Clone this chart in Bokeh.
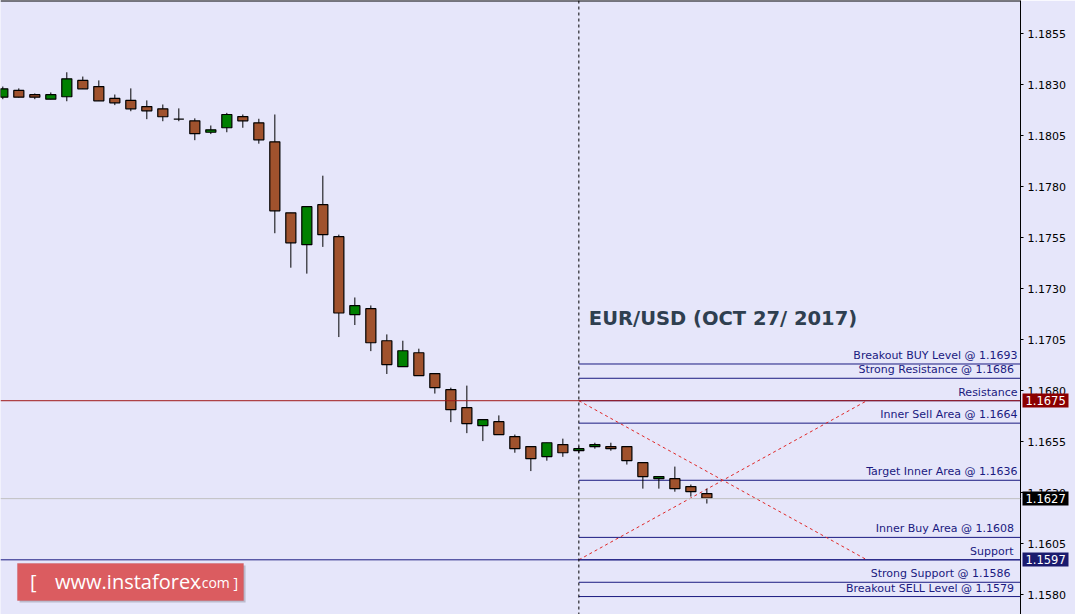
from bokeh.plotting import figure
from bokeh.models import (Range1d, FixedTicker, PrintfTickFormatter, Span, Label, BoxAnnotation,
                          LinearAxis)
from bokeh.core.properties import value
from bokeh.embed import file_html
from bokeh.resources import INLINE

# ---------------- data ----------------
opens = [1.18238, 1.18271, 1.18250, 1.18228, 1.18240, 1.18320, 1.18290, 1.18232, 1.18222, 1.18192,
         1.18181, 1.18130, 1.18122, 1.18066, 1.18088, 1.18143, 1.18112, 1.18019, 1.17671, 1.17515,
         1.17711, 1.17554, 1.17172, 1.17201, 1.17044, 1.16917, 1.16985, 1.16883, 1.16804, 1.16716,
         1.16628, 1.16647, 1.16574, 1.16525, 1.16476, 1.16535, 1.16505, 1.16525, 1.16525, 1.16525,
         1.16446, 1.16368, 1.16368, 1.16329, 1.16295]
closes = [1.18279, 1.18238, 1.18238, 1.18250, 1.18328, 1.18279, 1.18220, 1.18210, 1.18181, 1.18171,
          1.18142, 1.18130, 1.18059, 1.18078, 1.18153, 1.18122, 1.18029, 1.17681, 1.17524, 1.17701,
          1.17564, 1.17180, 1.17216, 1.17034, 1.16927, 1.16995, 1.16873, 1.16814, 1.16706, 1.16638,
          1.16657, 1.16584, 1.16515, 1.16466, 1.16544, 1.16495, 1.16515, 1.16535, 1.16515, 1.16456,
          1.16378, 1.16378, 1.16319, 1.16304, 1.16272]
highs = [1.18290, 1.18281, 1.18256, 1.18261, 1.18360, 1.18339, 1.18320, 1.18251, 1.18281, 1.18222,
         1.18202, 1.18183, 1.18134, 1.18099, 1.18161, 1.18153, 1.18132, 1.18153, 1.17671, 1.17701,
         1.17853, 1.17564, 1.17256, 1.17217, 1.17075, 1.17044, 1.17005, 1.16883, 1.16814, 1.16824,
         1.16657, 1.16678, 1.16584, 1.16525, 1.16544, 1.16564, 1.16526, 1.16544, 1.16544, 1.16525,
         1.16446, 1.16378, 1.16427, 1.16339, 1.16319]
lows = [1.18228, 1.18236, 1.18228, 1.18227, 1.18218, 1.18279, 1.18220, 1.18199, 1.18169, 1.18130,
        1.18120, 1.18120, 1.18027, 1.18057, 1.18066, 1.18088, 1.18010, 1.17571, 1.17402, 1.17373,
        1.17504, 1.17062, 1.17121, 1.16993, 1.16881, 1.16917, 1.16873, 1.16785, 1.16645, 1.16591,
        1.16552, 1.16584, 1.16495, 1.16405, 1.16456, 1.16475, 1.16494, 1.16515, 1.16505, 1.16437,
        1.16319, 1.16319, 1.16304, 1.16280, 1.16246]

level_values = [1.1693, 1.1686, 1.1675, 1.1664, 1.1636, 1.1608, 1.1597, 1.1586, 1.1579]
level_labels = ["Breakout BUY Level @ 1.1693", "Strong Resistance @  1.1686", "Resistance",
                "Inner Sell Area @ 1.1664", "Target Inner Area @ 1.1636", "Inner Buy Area  @ 1.1608",
                "Support", "Strong Support  @  1.1586", "Breakout SELL Level  @ 1.1579"]

resistance_price = 1.1675
last_price = 1.1627
support_price = 1.1597
badge_prices = [resistance_price, last_price, support_price]
badge_colors = ["#8b0000", "#000000", "#1a1a6e"]
marker_bar = 36
cross_end_bar = 54

tick_values = [1.1580, 1.1605, 1.1630, 1.1655, 1.1680, 1.1705, 1.1730, 1.1755,
               1.1780, 1.1805, 1.1830, 1.1855]

title_text = "EUR/USD (OCT 27/ 2017)"

# ---------------- figure ----------------
BG = "#e6e6fa"
NAVY = "#1a1a80"
X_START, X_END = -0.144, 63.6
Y_START, Y_END = 1.157020, 1.187118

p = figure(width=1075, height=614, x_range=Range1d(X_START, X_END),
           y_range=Range1d(Y_START, Y_END),
           y_axis_location="right", x_axis_location=None, output_backend="svg",
           toolbar_location=None, background_fill_color=BG, border_fill_color=BG,
           min_border=0, min_border_right=55, outline_line_color=None)
p.xgrid.visible = False
p.ygrid.visible = False

ax = p.yaxis[0]
ax.ticker = FixedTicker(ticks=tick_values)
ax.formatter = PrintfTickFormatter(format="%.4f")
ax.major_label_text_font = "DejaVu Sans"
ax.major_label_text_font_size = "11px"
ax.major_label_text_color = "black"
ax.major_tick_in = 0
ax.major_tick_out = 3
ax.minor_tick_out = 0
ax.minor_tick_in = 0
ax.major_label_standoff = 4
ax.axis_line_color = "black"

# price badges: coloured boxes drawn as thick inward ticks of zero-width outer axes
for price, col in zip(badge_prices, badge_colors):
    bx = LinearAxis(ticker=FixedTicker(ticks=[price]), formatter=PrintfTickFormatter(format="%.4f"),
                    axis_line_color=None, major_tick_in=46, major_tick_out=0,
                    major_tick_line_color=col, major_tick_line_width=14,
                    major_label_text_color=None, major_label_text_font="DejaVu Sans",
                    major_label_text_font_size="11px", major_label_standoff=-39,
                    minor_tick_in=0, minor_tick_out=0)
    p.add_layout(bx, "right")
# badge texts: white labels pulled back over the boxes
tx = LinearAxis(ticker=FixedTicker(ticks=badge_prices), formatter=PrintfTickFormatter(format="%.4f"),
                axis_line_color=None, major_tick_in=0, major_tick_out=0, minor_tick_in=0,
                minor_tick_out=0, major_label_standoff=-43, major_label_text_color="white",
                major_label_text_font="DejaVu Sans", major_label_text_font_size="11.5px")
p.add_layout(tx, "right")

# top border of the chart frame
p.add_layout(Span(location=Y_END, dimension="width", line_color="black", line_width=2))

# full width lines
p.add_layout(Span(location=last_price, dimension="width", line_color="#c0c0c0", line_width=1))
p.add_layout(Span(location=resistance_price, dimension="width", line_color="#a01818", line_width=1))
p.add_layout(Span(location=support_price, dimension="width", line_color=NAVY, line_width=1))
p.add_layout(Span(location=marker_bar, dimension="height", line_color="black", line_width=1,
                  line_dash="3 3"))

# level lines from marker to right edge
p.segment(x0=[marker_bar] * len(level_values), x1=[X_END] * len(level_values),
          y0=level_values, y1=level_values, line_color=NAVY, line_width=1)

# crossing dashed lines
p.segment(x0=[marker_bar, marker_bar], x1=[cross_end_bar, cross_end_bar],
          y0=[resistance_price, support_price], y1=[support_price, resistance_price],
          line_color="#e02828", line_width=1, line_dash="3 3")

# candles
idx = list(range(len(opens)))
up = [c > o for o, c in zip(opens, closes)]
colors = ["#008000" if u else "#a0522d" for u in up]
tops = [max(o, c) for o, c in zip(opens, closes)]
bots = [min(o, c) for o, c in zip(opens, closes)]
p.segment(x0=idx, x1=idx, y0=lows, y1=highs, line_color="black", line_width=1)
p.vbar(x=idx, width=0.63, top=tops, bottom=bots, fill_color=colors, line_color="black",
       line_width=1.2)

# level texts
offs = [-3 if t != "Support" else -7 for t in level_labels]
p.text(x=[X_END] * len(level_values), y=level_values, text=level_labels, x_offset=offs,
       y_offset=-2, text_align="right", text_baseline="bottom", text_color=NAVY,
       text_font=value("DejaVu Sans"), text_font_size="11px")

# title
p.text(x=[marker_bar], y=[1.17153], text=[title_text], x_offset=10, text_align="left",
       text_baseline="middle", text_color="#2f3f50", text_font=value("DejaVu Sans"),
       text_font_style="bold", text_font_size="19.5px")

# logo
p.add_layout(BoxAnnotation(left=1.05, right=15.17, top=1.15942, bottom=1.15761,
                           fill_color="#9090a0", fill_alpha=0.5, line_color=None, level="overlay"))
p.add_layout(BoxAnnotation(left=0.918, right=15.04, top=1.15952, bottom=1.157706,
                           fill_color="#db5c60", fill_alpha=1.0, line_color="#c44a4e",
                           line_width=1, level="overlay"))
p.add_layout(Label(x=1.7, y=1.15862, text="[", text_color="white",
                   text_font="Open Sans", text_font_size="20px", text_baseline="middle",
                   level="overlay"))
p.add_layout(Label(x=12.36, y=1.15862, text="www.instaforex", text_color="white",
                   text_font="Open Sans", text_font_size="20px", text_baseline="middle",
                   text_align="right", level="overlay"))
p.add_layout(Label(x=12.2, y=1.15862, text=".com ]", text_color="white", y_offset=-1,
                   text_font="Open Sans", text_font_size="14px", text_baseline="middle",
                   level="overlay"))

open("out.html", "w").write(file_html(p, INLINE))
